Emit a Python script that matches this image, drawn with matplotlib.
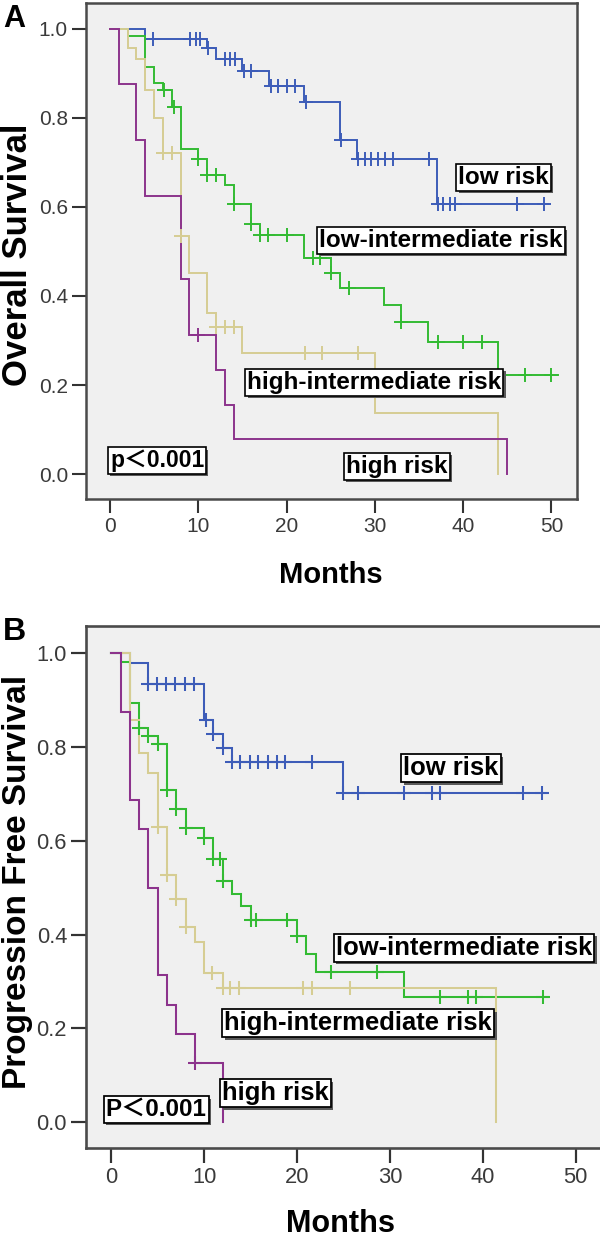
import numpy as np
import matplotlib
matplotlib.use('Agg')
import matplotlib.pyplot as plt
import matplotlib.patheffects as pe

plt.rcParams['font.family'] = ['Liberation Sans', 'Noto Sans CJK SC', 'DejaVu Sans']

W, H = 600, 1239

month_ticks = [0, 10, 20, 30, 40, 50]
surv_ticks = [0.0, 0.2, 0.4, 0.6, 0.8, 1.0]
group_names = ['low risk', 'low-intermediate risk', 'high-intermediate risk', 'high risk']
group_colors = ['#3d5cb8', '#33bb33', '#d6cd93', '#8c338c']

# ---------- Panel A: Overall Survival ----------
os_low_t = [4, 11, 12, 15, 18, 22, 26, 28, 37]
os_low_s = [0.978, 0.958, 0.932, 0.906, 0.872, 0.835, 0.750, 0.708, 0.606]
os_low_c = [4.9, 9.1, 9.7, 10.2, 11.1, 13.0, 13.6, 14.2, 15.2, 16.0, 18.2, 19.0, 20.0, 20.9,
            22.2, 26.2, 28.1, 28.9, 29.6, 30.4, 31.1, 32.1, 36.1, 37.1, 37.7, 38.5, 39.1, 46.1, 49.2]
os_low_end = 49.6

os_li_t = [2, 4, 5, 6, 7, 8, 10, 11, 13, 14, 16, 17, 22, 25, 26, 31, 33, 36, 44]
os_li_s = [0.984, 0.915, 0.879, 0.863, 0.825, 0.730, 0.707, 0.672, 0.649, 0.606, 0.562, 0.537,
           0.485, 0.451, 0.417, 0.380, 0.342, 0.297, 0.222]
os_li_c = [6.1, 7.2, 10.0, 11.0, 12.0, 14.0, 16.0, 17.0, 17.9, 20.0, 23.0, 23.8, 25.0, 27.1,
           33.0, 37.1, 40.0, 42.1, 47.0, 50.0]
os_li_end = 50.8

os_hi_t = [2, 3, 4, 5, 6, 8, 9, 11, 12, 15, 30, 44]
os_hi_s = [0.957, 0.932, 0.863, 0.799, 0.722, 0.535, 0.451, 0.361, 0.330, 0.273, 0.138, 0.0]
os_hi_c = [6.0, 7.0, 8.0, 12.0, 13.0, 14.0, 22.1, 24.0, 28.1]
os_hi_end = 44

os_h_t = [1, 3, 4, 8, 9, 12, 13, 14, 45]
os_h_s = [0.875, 0.75, 0.625, 0.4375, 0.3125, 0.234, 0.156, 0.078, 0.0]
os_h_c = [10.0]
os_h_end = 45

# ---------- Panel B: Progression Free Survival ----------
pfs_low_t = [2, 4, 10, 11, 12, 13, 25]
pfs_low_s = [0.979, 0.934, 0.858, 0.829, 0.799, 0.768, 0.703]
pfs_low_c = [4.0, 4.9, 5.9, 6.9, 7.9, 8.9, 10.2, 11.0, 12.0, 13.0, 13.9, 14.9, 15.8, 16.9, 17.9,
             18.7, 21.6, 25.0, 26.6, 31.5, 34.5, 35.4, 44.3, 46.4]
pfs_low_end = 46.8

pfs_li_t = [1, 2, 3, 4, 5, 6, 7, 8, 10, 11, 12, 13, 14, 15, 20, 21, 22, 31.5]
pfs_li_s = [0.982, 0.894, 0.841, 0.824, 0.806, 0.708, 0.668, 0.628, 0.606, 0.562, 0.514, 0.487,
            0.460, 0.432, 0.396, 0.359, 0.320, 0.266]
pfs_li_c = [3.0, 4.0, 5.0, 6.0, 7.0, 8.0, 10.0, 11.0, 11.7, 12.0, 15.0, 15.6, 18.9, 20.0, 23.7,
            28.6, 35.4, 38.4, 39.3, 46.5]
pfs_li_end = 47.0

pfs_hi_t = [2, 3, 4, 5, 6, 7, 8, 9, 10, 12, 41.4]
pfs_hi_s = [0.859, 0.788, 0.744, 0.630, 0.527, 0.475, 0.416, 0.384, 0.318, 0.285, 0.0]
pfs_hi_c = [5.0, 6.0, 7.0, 8.0, 10.8, 12.0, 12.8, 13.8, 20.6, 21.6, 25.7]
pfs_hi_end = 41.4

pfs_h_t = [1, 2, 3, 4, 5, 6, 7, 9, 12]
pfs_h_s = [0.875, 0.6875, 0.625, 0.5, 0.3125, 0.25, 0.1875, 0.125, 0.0]
pfs_h_c = [9.0]
pfs_h_end = 12

fig = plt.figure(figsize=(W / 100, H / 100), dpi=100)


def px_axes(left, top, right, bottom):
    return fig.add_axes([left / W, 1 - bottom / H, (right - left) / W, (bottom - top) / H])


def km(ax, t, s, c, end, color, scale):
    tt = np.concatenate([[0.0], np.asarray(t, float), [end]])
    ss = np.concatenate([[1.0], np.asarray(s, float), [s[-1]]])
    ax.step(tt, ss, where='post', color=color, lw=1.4 * scale, solid_joinstyle='miter', zorder=3)
    c = np.asarray(c, float)
    idx = np.searchsorted(np.asarray(t, float), c, side='right')
    lev = np.concatenate([[1.0], np.asarray(s, float)])[idx]
    ax.plot(c, lev, ls='none', marker='+', ms=10 * scale, mew=1.4 * scale, color=color, zorder=4)


def label_box(ax, x, y, text, fs, scale):
    t = ax.text(x, y, text, ha='center', va='center', fontsize=fs, fontweight='bold',
                color='black', zorder=6,
                bbox=dict(boxstyle='square,pad=0.08', fc='white', ec='black', lw=1.2 * scale))
    t.get_bbox_patch().set_path_effects([
        pe.SimplePatchShadow(offset=(1.6 * scale, -1.6 * scale), shadow_rgbFace='#5a5a5a', alpha=1.0),
        pe.Normal()])
    return t


def style_axes(ax, scale):
    ax.set_facecolor('#f0f0f0')
    ax.set_xlim(-2.72, 52.9)
    ax.set_ylim(-0.056, 1.058)
    ax.set_xticks(month_ticks)
    ax.set_yticks(surv_ticks)
    ax.set_yticklabels([f'{v:.1f}' for v in surv_ticks])
    for sp in ax.spines.values():
        sp.set_color('#4a4a4a')
        sp.set_linewidth(1.8 * scale)
    ax.tick_params(direction='out', length=10 * scale, width=1.5 * scale, color='#333333',
                   labelsize=15 * scale, labelcolor='#3a3a3a', pad=3 * scale)


def panel(ax, data, boxes, scale, ylabel, ylab_fs, letter, pv, ylab_center, months_center, letter_top):
    style_axes(ax, scale)
    for (t, s, c, end), color in zip(data, group_colors):
        km(ax, t, s, c, end, color, scale)
    for name, (x, y) in zip(group_names, boxes):
        label_box(ax, x, y, name, 17.5 * scale, scale)
    label_box(ax, pv[0], pv[1], pv[2], 16.5 * scale, scale)
    fig.text(18 / W, 1 - ylab_center / H, ylabel, rotation=90, ha='center', va='center',
             fontsize=ylab_fs, fontweight='bold')
    fig.text(months_center[0] / W, 1 - months_center[1] / H, 'Months', ha='center', va='center',
             fontsize=21 * scale, fontweight='bold')
    fig.text(3 / W, 1 - letter_top / H, letter, ha='left', va='top', fontsize=22 * scale,
             fontweight='bold')


# Panel A
axA = px_axes(86, 3, 577, 499)
panel(axA,
      [(os_low_t, os_low_s, os_low_c, os_low_end),
       (os_li_t, os_li_s, os_li_c, os_li_end),
       (os_hi_t, os_hi_s, os_hi_c, os_hi_end),
       (os_h_t, os_h_s, os_h_c, os_h_end)],
      [(44.6, 0.667), (37.5, 0.524), (29.95, 0.206), (32.5, 0.0175)],
      1.0, 'Overall Survival', 25, 'A', (5.34, 0.030, 'p\uff1c0.001'),
      255, (331, 575), 4)

# Panel B (slightly larger, right frame runs off the image edge)
sB = 1.052
axB = px_axes(86, 626.3, 86 + 491 * sB, 626.3 + 496 * sB)
panel(axB,
      [(pfs_low_t, pfs_low_s, pfs_low_c, pfs_low_end),
       (pfs_li_t, pfs_li_s, pfs_li_c, pfs_li_end),
       (pfs_hi_t, pfs_hi_s, pfs_hi_c, pfs_hi_end),
       (pfs_h_t, pfs_h_s, pfs_h_c, pfs_h_end)],
      [(36.6, 0.755), (38.0, 0.371), (26.6, 0.2105), (17.7, 0.061)],
      sB, 'Progression Free Survival', 24, 'B', (4.84, 0.026, 'P\uff1c0.001'),
      882, (340, 1224), 617)

fig.savefig('out.png', dpi=100, facecolor='white')
